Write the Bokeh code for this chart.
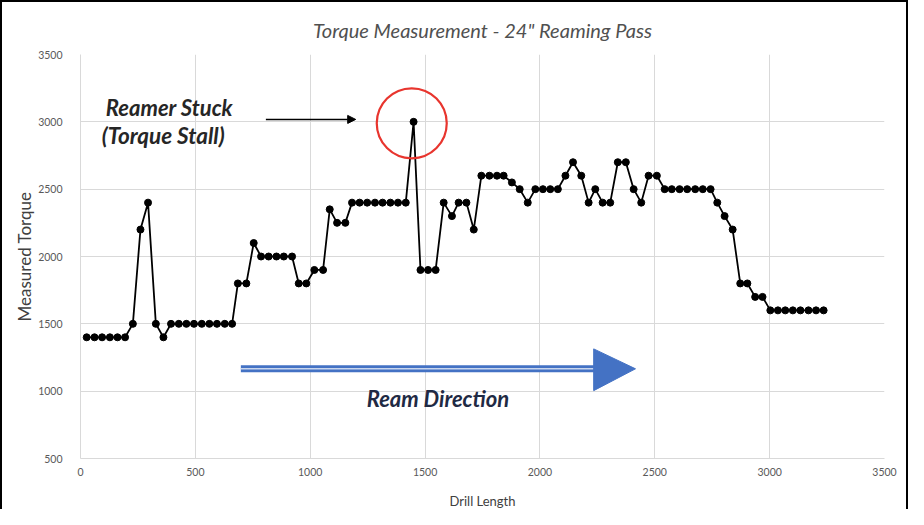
from bokeh.plotting import figure
from bokeh.models import Range1d, Label, Arrow, NormalHead, FixedTicker
from bokeh.embed import file_html
from bokeh.resources import INLINE

# ---- data ----
drill_length = [27, 61, 94, 128, 161, 194, 228, 261, 294, 328, 361, 394, 428, 461, 494,
                528, 561, 594, 628, 660, 685, 722, 754, 786, 819, 853, 885, 921, 950, 983,
                1018, 1056, 1085, 1117, 1153, 1182, 1215, 1248, 1282, 1315, 1349, 1382, 1416,
                1450, 1480, 1513, 1546, 1581, 1617, 1646, 1680, 1712, 1745, 1780, 1813, 1842,
                1878, 1912, 1947, 1980, 2013, 2045, 2078, 2111, 2144, 2180, 2212, 2241, 2273,
                2306, 2339, 2374, 2408, 2441, 2473, 2509, 2543, 2574, 2608, 2641, 2676, 2709,
                2743, 2772, 2804, 2839, 2872, 2903, 2937, 2969, 3003, 3036, 3068, 3101, 3134,
                3169, 3202, 3235]
torque = [1400, 1400, 1400, 1400, 1400, 1400, 1500, 2200, 2400, 1500, 1400, 1500, 1500, 1500, 1500,
          1500, 1500, 1500, 1500, 1500, 1800, 1800, 2100, 2000, 2000, 2000, 2000, 2000, 1800, 1800,
          1900, 1900, 2350, 2250, 2250, 2400, 2400, 2400, 2400, 2400, 2400, 2400, 2400,
          3000, 1900, 1900, 1900, 2400, 2300, 2400, 2400, 2200, 2600, 2600, 2600, 2600,
          2550, 2500, 2400, 2500, 2500, 2500, 2500, 2600, 2700, 2600, 2400, 2500, 2400,
          2400, 2700, 2700, 2500, 2400, 2600, 2600, 2500, 2500, 2500, 2500, 2500, 2500,
          2500, 2400, 2300, 2200, 1800, 1800, 1700, 1700, 1600, 1600, 1600, 1600, 1600,
          1600, 1600, 1600]
x_ticks = [0, 500, 1000, 1500, 2000, 2500, 3000, 3500]
y_ticks = [500, 1000, 1500, 2000, 2500, 3000, 3500]
title_text = "Torque Measurement - 24\" Reaming Pass"

FONT = "Lato"
GRID = "#d9d9d9"

p = figure(width=908, height=509, output_backend="svg", toolbar_location=None,
           x_range=Range1d(0, 3500), y_range=Range1d(500, 3500),
           min_border_left=78, min_border_right=26, min_border_top=52, min_border_bottom=47,
           title=title_text)
p.styles = {"border-left": "2px solid #000000", "border-top": "2px solid #000000",
            "border-right": "2px solid #000000", "box-sizing": "border-box"}

p.title.align = "center"
p.title.text_font = FONT
p.title.text_font_style = "italic"
p.title.text_font_size = "20px"
p.title.text_color = "#505050"
p.title.offset = -23
p.title.standoff = 25

p.outline_line_color = None
p.background_fill_color = "white"
p.border_fill_color = "white"

for ax in (p.xaxis[0], p.yaxis[0]):
    ax.axis_line_color = GRID
    ax.major_tick_line_color = None
    ax.minor_tick_line_color = None
    ax.major_label_text_font = FONT
    ax.major_label_text_font_size = "10.5px"
    ax.major_label_text_color = "#595959"
    ax.axis_label_text_font = FONT
    ax.axis_label_text_font_style = "normal"
    ax.axis_label_text_color = "#404040"

p.xaxis.ticker = FixedTicker(ticks=x_ticks)
p.yaxis.ticker = FixedTicker(ticks=y_ticks)
p.xaxis.axis_label = "Drill Length"
p.yaxis.axis_label = "Measured Torque"
p.xaxis.axis_label_text_font_size = "13px"
p.yaxis.axis_label_text_font_size = "17px"
p.xaxis.major_label_standoff = 3
p.yaxis.major_label_standoff = 12
p.xaxis.axis_label_standoff = 14
p.yaxis.axis_label_standoff = 0

p.xgrid.grid_line_color = GRID
p.ygrid.grid_line_color = GRID
p.xgrid.ticker = FixedTicker(ticks=x_ticks)
p.ygrid.ticker = FixedTicker(ticks=y_ticks)

# series
p.line(drill_length, torque, line_color="#000000", line_width=1.8)
p.scatter(drill_length, torque, size=7, marker="circle", fill_color="#000000", line_color="#000000")

# annotations
p.circle(x=[1442], y=[2989], radius=35, radius_units="screen",
         fill_color=None, line_color="#e8352e", line_width=2.2)
p.add_layout(Arrow(end=NormalHead(size=8, fill_color="#000000", line_color="#000000"),
                   x_start=807, y_start=3018, x_end=1198, y_end=3018,
                   line_color="#000000", line_width=1.5))
p.add_layout(Label(x=110, y=3107, text="Reamer Stuck", text_font=FONT, text_font_size="22px",
                   text_font_style="bold italic", text_color="#262626", text_baseline="middle"))
p.add_layout(Label(x=93, y=2900, text="(Torque Stall)", text_font=FONT, text_font_size="22.5px",
                   text_font_style="bold italic", text_color="#262626", text_baseline="middle"))

# blue ream-direction arrow
p.line([698, 2240], [1166, 1166], line_color="#4472c4", line_width=7)
p.line([698, 2240], [1166, 1166], line_color="#c9d6ee", line_width=1.5)
p.patch([2234, 2416, 2234], [1314, 1166, 1004], fill_color="#4472c4", line_color="#4472c4")
p.add_layout(Label(x=1556, y=945, text="Ream Direction", text_font=FONT, text_font_size="22px",
                   text_font_style="bold italic", text_color="#1f2a44", text_align="center",
                   text_baseline="middle"))

open("out.html", "w").write(file_html(p, INLINE))
